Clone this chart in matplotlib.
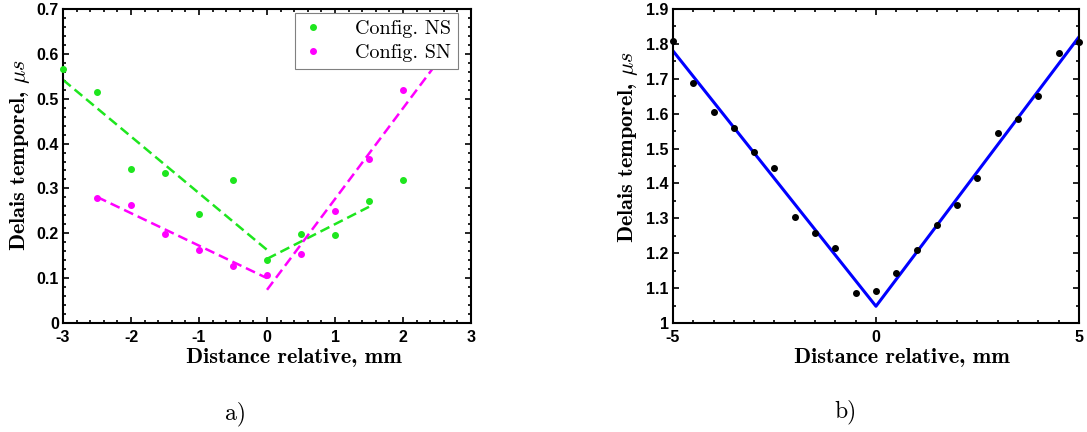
import matplotlib
matplotlib.use("Agg")
import matplotlib.pyplot as plt
from matplotlib.ticker import MultipleLocator

plt.rcParams["mathtext.fontset"] = "cm"
plt.rcParams["axes.unicode_minus"] = False

# a) two magnet configurations
pos_a = [-3, -2.5, -2, -1.5, -1, -0.5, 0, 0.5, 1, 1.5, 2]
ns_delay = [0.567, 0.515, 0.343, 0.335, 0.243, 0.318, 0.141, 0.198, 0.196, 0.271, 0.318]
pos_sn = [-2.5, -2, -1.5, -1, -0.5, 0, 0.5, 1, 1.5, 2]
sn_delay = [0.279, 0.262, 0.199, 0.163, 0.127, 0.106, 0.154, 0.249, 0.365, 0.520]

# linear fits (end points)
ns_fit_left_x = [-3, 0]
ns_fit_left_y = [0.542, 0.163]
ns_fit_right_x = [0, 1.5]
ns_fit_right_y = [0.143, 0.259]
sn_fit_left_x = [-2.5, 0]
sn_fit_left_y = [0.281, 0.100]
sn_fit_right_x = [0, 2.5]
sn_fit_right_y = [0.074, 0.580]

# b) single measurement
pos_b = [-5, -4.5, -4, -3.5, -3, -2.5, -2, -1.5, -1, -0.5, 0,
         0.5, 1, 1.5, 2, 2.5, 3, 3.5, 4, 4.5, 5]
delay_b = [1.807, 1.688, 1.605, 1.558, 1.491, 1.444, 1.305, 1.258, 1.214, 1.085, 1.091,
           1.144, 1.209, 1.281, 1.339, 1.417, 1.545, 1.584, 1.651, 1.773, 1.805]
fit_b_x = [-5, 0, 5]
fit_b_y = [1.780, 1.048, 1.820]

GREEN = "#1ee61e"
MAGENTA = "#ff00ff"

fig = plt.figure(figsize=(10.87, 4.32), dpi=100)
ax1 = fig.add_axes([0.058, 0.2523, 0.3753, 0.7269])
ax2 = fig.add_axes([0.6191, 0.2523, 0.3735, 0.7269])

label_font = dict(family="cmb10", size=16)
tick_font = dict(family="Liberation Sans", size=11.5, weight="bold")


def style_axes(ax):
    ax.tick_params(which="both", direction="in", top=True, right=True, width=1.2)
    ax.tick_params(which="major", length=4)
    ax.tick_params(axis="x", which="major", pad=5)
    ax.tick_params(axis="y", which="major", pad=3)
    ax.tick_params(which="minor", length=2)
    for s in ax.spines.values():
        s.set_linewidth(1.5)
    for lab in ax.get_xticklabels() + ax.get_yticklabels():
        lab.set_fontfamily(tick_font["family"])
        lab.set_fontsize(tick_font["size"])
        lab.set_fontweight(tick_font["weight"])


# ---- a) ----
ax1.plot(ns_fit_left_x, ns_fit_left_y, "--", color=GREEN, lw=1.8, dashes=(4, 2))
ax1.plot(ns_fit_right_x, ns_fit_right_y, "--", color=GREEN, lw=1.8, dashes=(4, 2))
ax1.plot(sn_fit_left_x, sn_fit_left_y, "--", color=MAGENTA, lw=1.8, dashes=(4, 2))
ax1.plot(sn_fit_right_x, sn_fit_right_y, "--", color=MAGENTA, lw=1.8, dashes=(4, 2))
ax1.plot(pos_a, ns_delay, "o", color=GREEN, ms=4, label="Config. NS", clip_on=False, zorder=3)
ax1.plot(pos_sn, sn_delay, "o", color=MAGENTA, ms=4, label="Config. SN", clip_on=False, zorder=3)
ax1.set_xlim(-3, 3)
ax1.set_ylim(0, 0.7)
ax1.xaxis.set_major_locator(MultipleLocator(1))
ax1.xaxis.set_minor_locator(MultipleLocator(0.2))
ax1.set_yticks([0, 0.1, 0.2, 0.3, 0.4, 0.5, 0.6, 0.7])
ax1.set_yticklabels(["0", "0.1", "0.2", "0.3", "0.4", "0.5", "0.6", "0.7"])
ax1.yaxis.set_minor_locator(MultipleLocator(0.02))
style_axes(ax1)
leg = ax1.legend(loc="upper right", bbox_to_anchor=(0.968, 0.987), borderaxespad=0,
                 fancybox=False, edgecolor="#808080", framealpha=1,
                 prop=dict(family="cmr10", size=14.5), markerscale=1.0,
                 handlelength=1.0, handletextpad=1.6, borderpad=0.35, labelspacing=0.3)
leg.get_frame().set_linewidth(0.8)

# ---- b) ----
ax2.plot(fit_b_x, fit_b_y, "-", color="#0000ff", lw=2.2)
ax2.plot(pos_b, delay_b, "o", color="black", ms=4, clip_on=False, zorder=3)
ax2.set_xlim(-5, 5)
ax2.set_ylim(1, 1.9)
ax2.xaxis.set_major_locator(MultipleLocator(5))
ax2.xaxis.set_minor_locator(MultipleLocator(0.5))
ax2.set_yticks([1, 1.1, 1.2, 1.3, 1.4, 1.5, 1.6, 1.7, 1.8, 1.9])
ax2.set_yticklabels(["1", "1.1", "1.2", "1.3", "1.4", "1.5", "1.6", "1.7", "1.8", "1.9"])
ax2.yaxis.set_minor_locator(MultipleLocator(0.05))
style_axes(ax2)

for ax, xl, yl in [(ax1, (0.566, -0.110), (-0.105, 0.535)),
                   (ax2, (0.564, -0.110), (-0.111, 0.561))]:
    ax.set_xlabel("Distance relative, mm", **label_font)
    ax.set_ylabel(r"Delais temporel, $\mu s$", **label_font)
    ax.xaxis.label.set_va("center")
    ax.yaxis.label.set_va("center")
    ax.xaxis.set_label_coords(*xl)
    ax.yaxis.set_label_coords(*yl)

fig.text(236 / 1087, 1 - 414 / 432, "a)", family="cmr10", size=17, ha="center", va="center")
fig.text(845 / 1087, 1 - 412 / 432, "b)", family="cmr10", size=17, ha="center", va="center")

fig.savefig("out.png", dpi=100)
